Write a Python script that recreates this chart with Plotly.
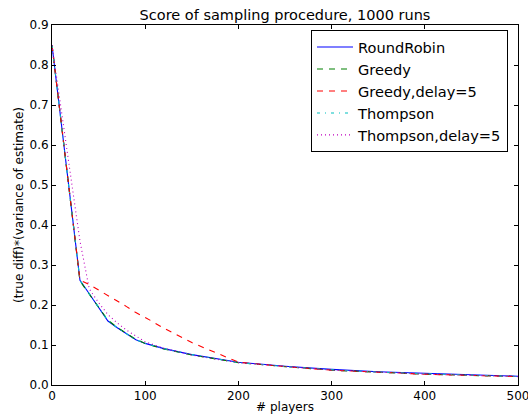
import plotly.graph_objects as go

players = [0, 30, 40, 50, 60, 70, 80, 90, 100, 120, 150, 180, 200, 250, 300, 350, 400, 450, 500]

round_robin = [0.85, 0.262, 0.228, 0.193, 0.160, 0.143, 0.127, 0.113, 0.104, 0.091, 0.076, 0.064, 0.057, 0.047, 0.039, 0.033, 0.029, 0.025, 0.022]
greedy = [0.85, 0.260, 0.227, 0.194, 0.162, 0.144, 0.128, 0.114, 0.104, 0.090, 0.075, 0.063, 0.056, 0.046, 0.037, 0.032, 0.027, 0.024, 0.021]
greedy_delay = [0.85, 0.262, 0.251, 0.238, 0.224, 0.210, 0.196, 0.181, 0.169, 0.142, 0.106, 0.077, 0.057, 0.046, 0.037, 0.032, 0.027, 0.024, 0.021]
thompson = [0.85, 0.261, 0.228, 0.194, 0.161, 0.143, 0.127, 0.113, 0.104, 0.091, 0.076, 0.063, 0.056, 0.046, 0.038, 0.032, 0.028, 0.024, 0.021]
thompson_delay = [0.85, 0.360, 0.240, 0.206, 0.176, 0.155, 0.137, 0.123, 0.108, 0.092, 0.075, 0.063, 0.056, 0.046, 0.037, 0.032, 0.027, 0.024, 0.021]

series = [
    ("RoundRobin", round_robin, "#0000ff", "solid"),
    ("Greedy", greedy, "#008000", "6px,6px"),
    ("Greedy,delay=5", greedy_delay, "#ff0000", "6px,6px"),
    ("Thompson", thompson, "#00bfbf", "3px,5px,1px,5px"),
    ("Thompson,delay=5", thompson_delay, "#bf00bf", "1px,3px"),
]

fig = go.Figure()
for i, (name, vals, color, dash) in enumerate(series):
    fig.add_trace(go.Scatter(
        x=players, y=vals, mode="lines", name=name,
        line=dict(color=color, width=1.1, dash=dash),
        legendgroup=f"g{i}",
    ))

font = "DejaVu Sans, sans-serif"
axis_common = dict(
    showline=True, linecolor="black", linewidth=1, mirror="ticks",
    ticks="inside", ticklen=4, tickcolor="black", showgrid=False, zeroline=False,
    tickfont=dict(family=font, size=12, color="black"), ticklabeloverflow="allow",
    automargin=False,
)
fig.update_layout(
    width=528, height=417,
    margin=dict(l=52, r=10, t=25, b=32),
    paper_bgcolor="white", plot_bgcolor="white",
    title=dict(text="Score of sampling procedure, 1000 runs", x=(52 + 518) / 2 / 528, xanchor="center",
               y=1 - 14.5 / 417, yanchor="middle", yref="container",
               font=dict(family=font, size=14.5, color="black")),
    xaxis=dict(range=[0, 500], tickvals=[0, 100, 200, 300, 400, 500],
               title=dict(text="# players", standoff=0, font=dict(family=font, size=12, color="black")),
               **axis_common),
    yaxis=dict(range=[0, 0.9], tickvals=[0, 0.1, 0.2, 0.3, 0.4, 0.5, 0.6, 0.7, 0.8, 0.9], tickformat=".1f",
               title=dict(text="(true diff)*(variance of estimate)", standoff=3, font=dict(family=font, size=12, color="black")),
               **axis_common),
    legend=dict(x=(311 - 52) / 466, xanchor="left", y=(385 - 30) / 360, yanchor="top",
                bordercolor="black", borderwidth=1, bgcolor="white", itemwidth=36,
                font=dict(family=font, size=14.6, color="black"), tracegroupgap=0),
    showlegend=True,
)

fig.write_html("out.html")
